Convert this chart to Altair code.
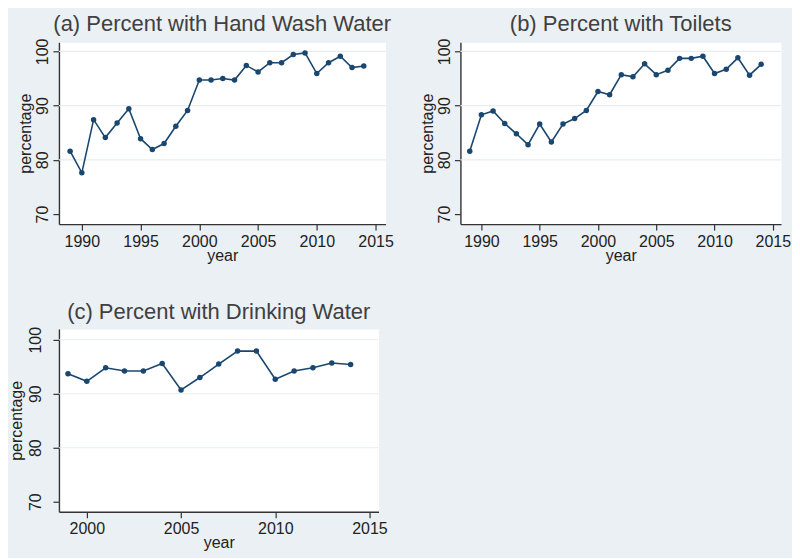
import altair as alt
import pandas as pd

years_ab = list(range(1989, 2015))
hand_wash = [81.6, 77.6, 87.4, 84.1, 86.8, 89.4, 83.9, 81.9, 83.0, 86.2, 89.1, 94.7, 94.7,
             95.0, 94.7, 97.4, 96.2, 97.9, 97.9, 99.4, 99.7, 95.9, 97.9, 99.1, 97.0, 97.3]
toilets = [81.6, 88.3, 89.0, 86.7, 84.8, 82.8, 86.6, 83.3, 86.6, 87.6, 89.1, 92.6, 92.0,
           95.7, 95.3, 97.7, 95.7, 96.5, 98.7, 98.7, 99.1, 95.9, 96.7, 98.8, 95.6, 97.6]
years_c = list(range(1999, 2015))
drinking = [93.7, 92.3, 94.8, 94.2, 94.2, 95.6, 90.7, 93.0, 95.5, 97.9, 97.9, 92.7,
            94.2, 94.8, 95.7, 95.4]
y_ticks = [70, 80, 90, 100]
grid_vals = [80, 90, 100]
x_ticks_ab = [1990, 1995, 2000, 2005, 2010, 2015]
x_ticks_c = [2000, 2005, 2010, 2015]

FONT = "Liberation Sans"
LINE = "#1a476f"
AXC = "#333333"


def panel(title, years, values, xdom, xticks, ydom, w, h, ylabpad=2, ytitlepad=1):
    df = pd.DataFrame({"year": years, "pct": values})
    ysc = alt.Scale(domain=ydom, nice=False, zero=False)
    xsc = alt.Scale(domain=xdom, nice=False, zero=False)
    xax = alt.Axis(values=xticks, title="year", format="d", labelFlush=False,
                   labelFontSize=16, labelFont=FONT, labelColor="#222222",
                   titleFontSize=16, titleFont=FONT, titleColor="#222222",
                   titleFontWeight="normal", titlePadding=-2, labelPadding=3,
                   tickSize=6, tickColor=AXC, tickWidth=1.2, domainColor=AXC,
                   domainWidth=1.4, grid=False)
    yax = alt.Axis(values=y_ticks, title="percentage", labelAngle=-90,
                   labelAlign="center", labelBaseline="bottom",
                   labelFontSize=16, labelFont=FONT, labelColor="#222222",
                   titleFontSize=16, titleFont=FONT, titleColor="#222222",
                   titleFontWeight="normal", titlePadding=ytitlepad,
                   labelPadding=ylabpad, tickSize=6, tickColor=AXC, tickWidth=1.2,
                   domainColor=AXC, domainWidth=1.4, grid=False)
    grid = alt.Chart(pd.DataFrame({"pct": grid_vals})).mark_rule(
        color="#E6EDF1", strokeWidth=1.2
    ).encode(y=alt.Y("pct:Q", scale=ysc, axis=yax))
    base = alt.Chart(df).encode(
        x=alt.X("year:Q", scale=xsc, axis=xax),
        y=alt.Y("pct:Q", scale=ysc, axis=yax),
    )
    line = base.mark_line(color=LINE, strokeWidth=1.6)
    pts = base.mark_circle(color=LINE, size=30, opacity=1)
    return alt.layer(grid, line, pts).properties(
        width=w, height=h,
        title=alt.TitleParams(title, fontSize=22, font=FONT, color="#404040",
                              fontWeight="normal", anchor="middle", offset=2),
    )


pa = panel("(a) Percent with Hand Wash Water", years_ab, hand_wash,
           [1988.05, 2015.85], x_ticks_ab, [68.16, 101.66], 327, 182)
pb = panel("(b) Percent with Toilets", years_ab, toilets,
           [1988.2, 2015.7], x_ticks_ab, [68.16, 101.66], 321, 182)
pc = panel("(c) Percent with Drinking Water", years_c, drinking,
           [1998.52, 2015.48], x_ticks_c, [68.15, 102.0], 320, 183,
           ylabpad=9, ytitlepad=3)

top = alt.hconcat(pa, pb, spacing=24)
chart = alt.vconcat(top, pc, spacing=36).properties(
    background="#EAF0F4",
    padding={"left": 0, "top": 4, "right": 0, "bottom": 6},
).configure_view(fill="white", stroke="transparent")

chart.save("out.html", embed_options={"renderer": "svg", "actions": False})
